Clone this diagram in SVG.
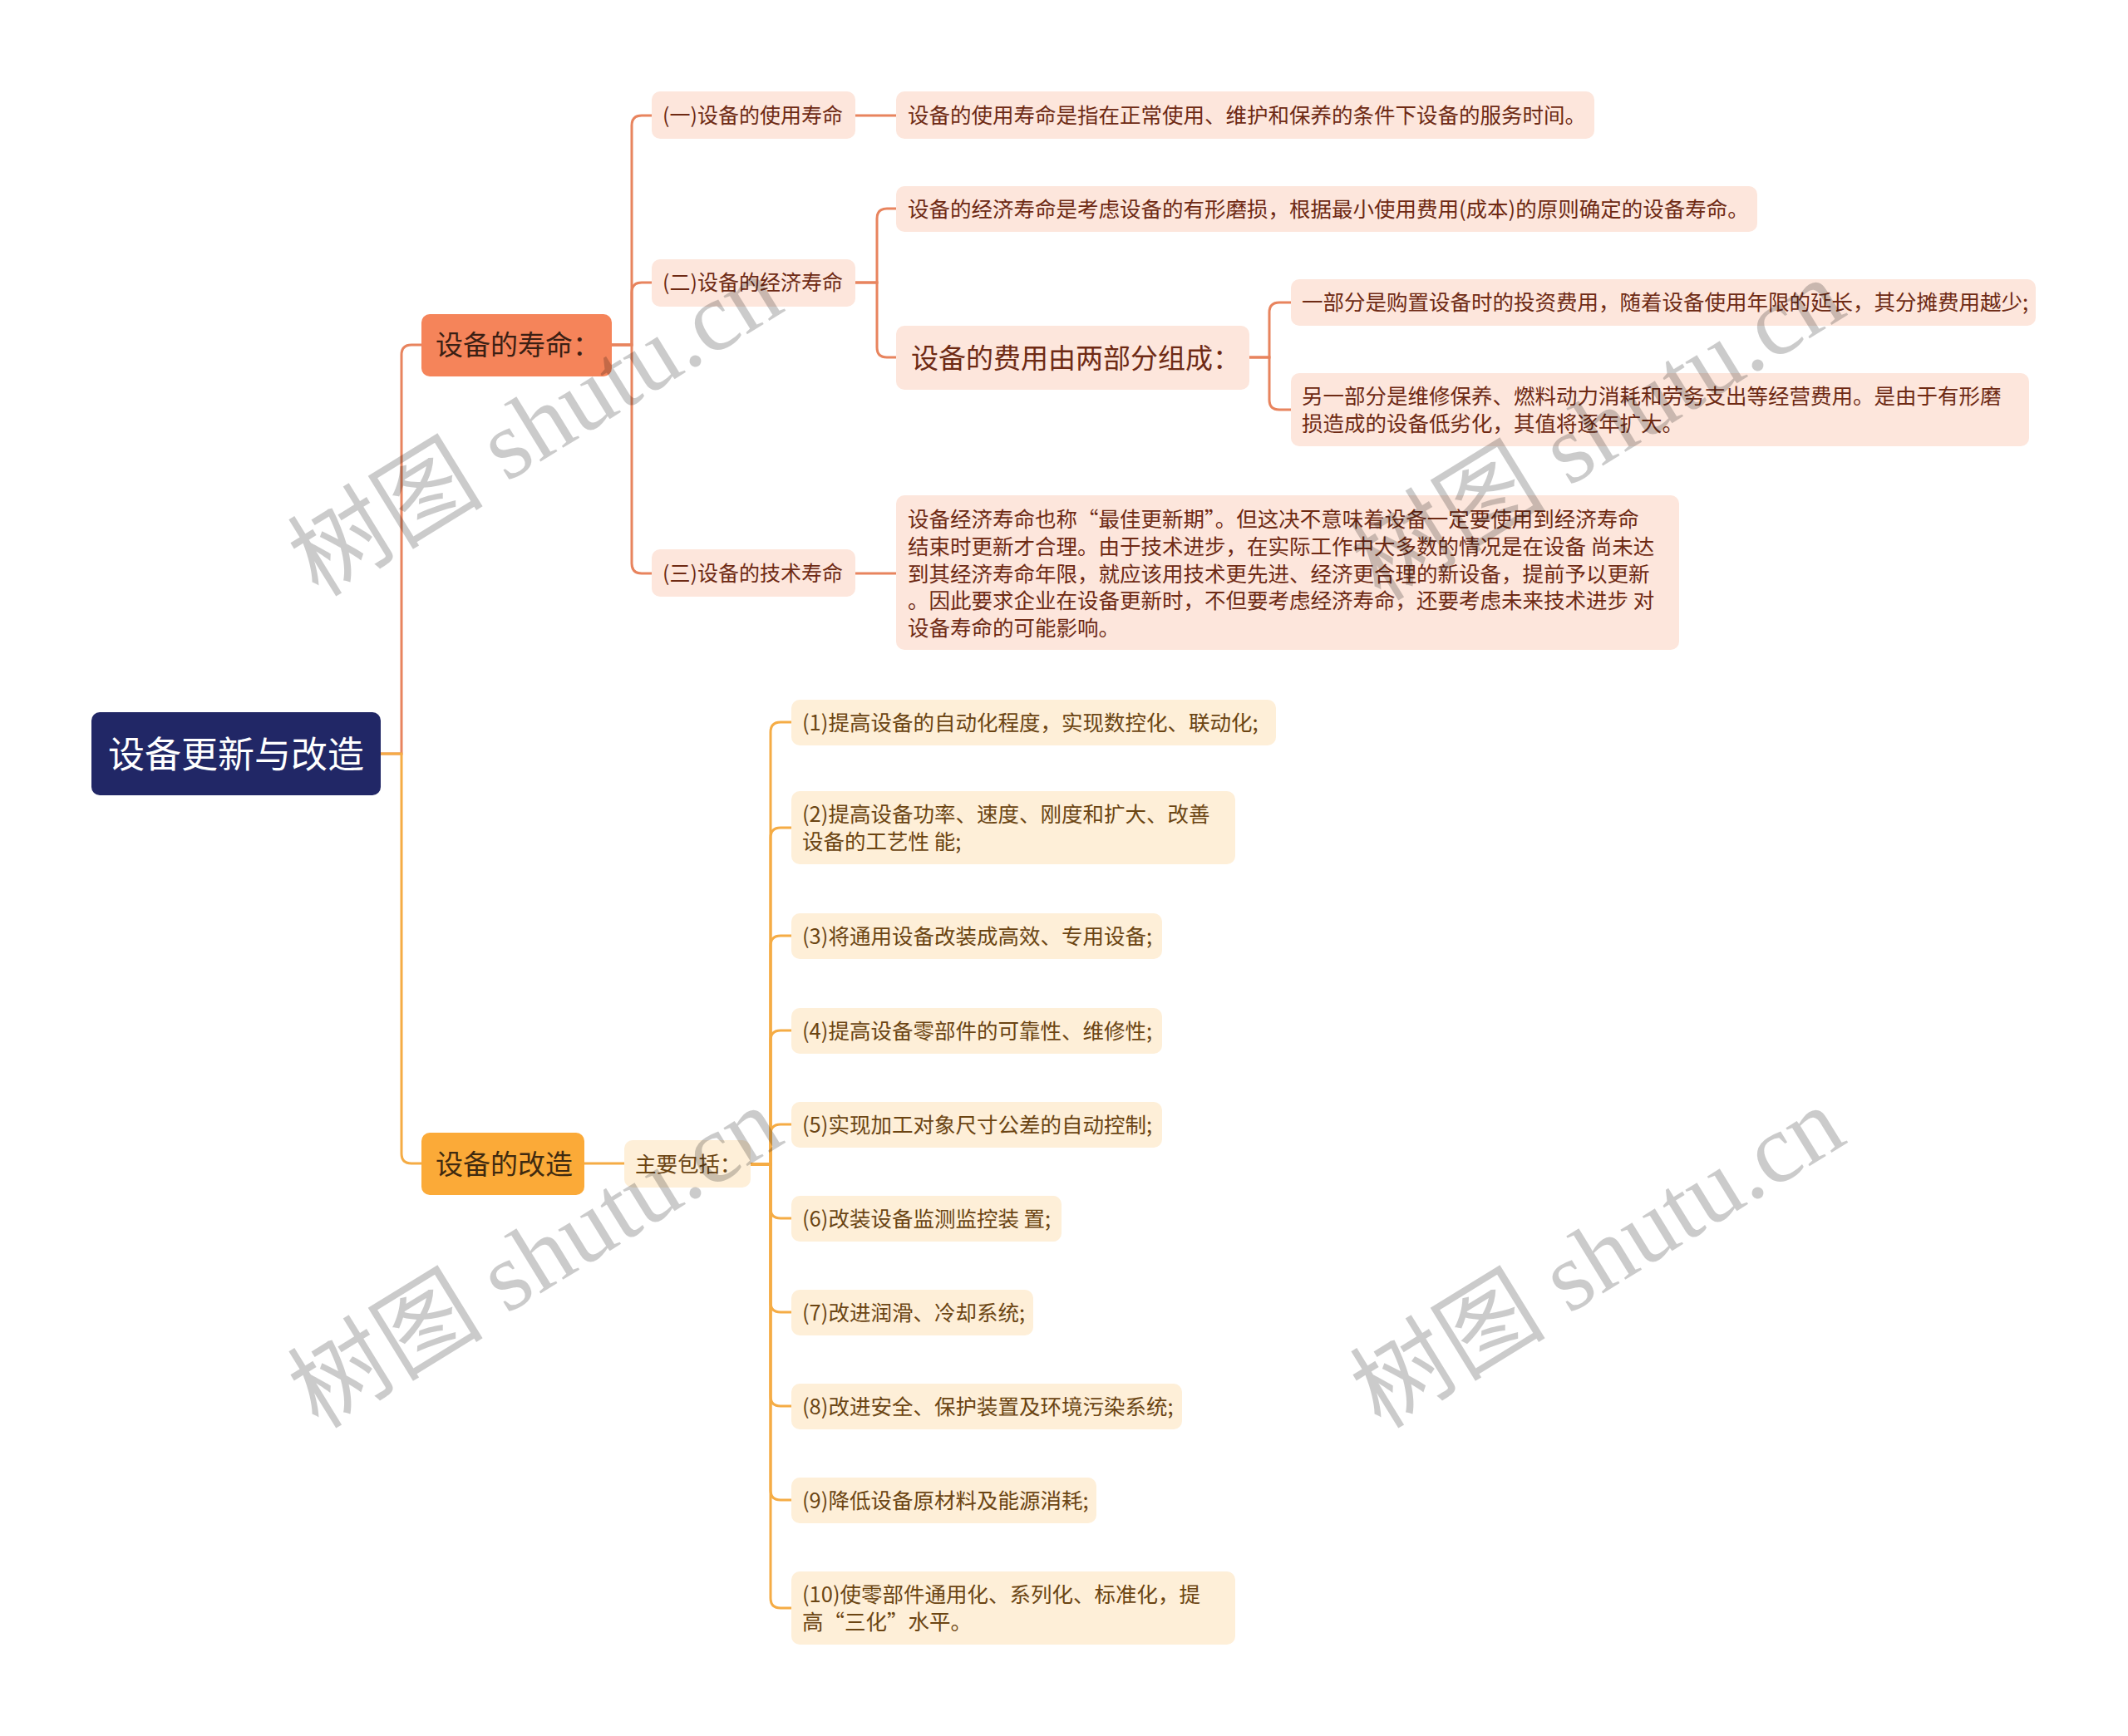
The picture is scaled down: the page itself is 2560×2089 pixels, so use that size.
<svg xmlns="http://www.w3.org/2000/svg" width="2560" height="2089" viewBox="0 0 2560 2089">
<style>
text{font-family:"Noto Sans CJK SC","Microsoft YaHei",sans-serif;}
.c1{fill:none;stroke:#E8845E;stroke-width:3;}
.c2{fill:none;stroke:#F5AC45;stroke-width:3;}
.root{fill:#212766;}
.b1{fill:#F5845A;}
.b2{fill:#FBAA38;}
.n1{fill:#FDE6DC;}
.n2{fill:#FEEFD8;}
.t1{fill:#6E2A14;font-size:25.5px;}
.t1s{fill:#6E2A14;font-size:25px;}
.t2{fill:#6B4513;font-size:25.5px;}
.wm{font-family:"Liberation Serif","Noto Sans CJK SC",serif;font-size:118px;fill:#000;opacity:0.2;}
</style>
<rect width="2560" height="2089" fill="#FFFFFF"/>
<g id="connectors">
<path class="c1" d="M458 907 H483 V427 Q483 415 495 415 H507"/>
<path class="c2" d="M458 907 H483 V1388 Q483 1400 495 1400 H507"/>
<path class="c1" d="M736 415 H760 V151 Q760 139 772 139 H784"/>
<path class="c1" d="M736 415 H760 V352 Q760 340 772 340 H784"/>
<path class="c1" d="M736 415 H760 V678 Q760 690 772 690 H784"/>
<path class="c1" d="M1029 139 H1078"/>
<path class="c1" d="M1029 340 H1055 V263 Q1055 251 1067 251 H1078"/>
<path class="c1" d="M1029 340 H1055 V418 Q1055 430 1067 430 H1078"/>
<path class="c1" d="M1029 690 H1078"/>
<path class="c1" d="M1503 430 H1527 V376 Q1527 364 1539 364 H1553"/>
<path class="c1" d="M1503 430 H1527 V481 Q1527 493 1539 493 H1553"/>
<path class="c2" d="M703 1400 H751"/>
<path class="c2" d="M903 1401 H927 V881 Q927 869 939 869 H952"/>
<path class="c2" d="M903 1401 H927 V1008 Q927 996 939 996 H952"/>
<path class="c2" d="M903 1401 H927 V1138 Q927 1126 939 1126 H952"/>
<path class="c2" d="M903 1401 H927 V1252 Q927 1240 939 1240 H952"/>
<path class="c2" d="M903 1401 H927 V1365 Q927 1353 939 1353 H952"/>
<path class="c2" d="M903 1401 H927 V1454 Q927 1466 939 1466 H952"/>
<path class="c2" d="M903 1401 H927 V1567 Q927 1579 939 1579 H952"/>
<path class="c2" d="M903 1401 H927 V1680 Q927 1692 939 1692 H952"/>
<path class="c2" d="M903 1401 H927 V1793 Q927 1805 939 1805 H952"/>
<path class="c2" d="M903 1401 H927 V1923 Q927 1935 939 1935 H952"/>
</g>
<g id="root">
<rect class="root" x="110" y="857" width="348" height="100" rx="10"/>
<text x="284" y="924" font-size="44" fill="#FFFFFF" text-anchor="middle">设备更新与改造</text>
</g>
<g id="b1">
<rect class="b1" x="507" y="378" width="229" height="75" rx="10"/>
<text x="524" y="427" font-size="33" fill="#3B1F14">设备的寿命：</text>
</g>
<g id="b2">
<rect class="b2" x="507" y="1363" width="196" height="75" rx="10"/>
<text x="524" y="1413" font-size="33" fill="#3F2A10">设备的改造</text>
</g>
<g id="life1">
<rect class="n1" x="784" y="110" width="245" height="57" rx="10"/>
<text class="t1s" x="797" y="148">(一)设备的使用寿命</text>
</g>
<g id="life2">
<rect class="n1" x="784" y="312" width="245" height="57" rx="10"/>
<text class="t1s" x="797" y="349">(二)设备的经济寿命</text>
</g>
<g id="life3">
<rect class="n1" x="784" y="661" width="245" height="57" rx="10"/>
<text class="t1s" x="797" y="699">(三)设备的技术寿命</text>
</g>
<g id="life1d">
<rect class="n1" x="1078" y="110" width="840" height="57" rx="10"/>
<text class="t1" x="1092" y="148">设备的使用寿命是指在正常使用、维护和保养的条件下设备的服务时间。</text>
</g>
<g id="life2d">
<rect class="n1" x="1078" y="224" width="1036" height="55" rx="10"/>
<text class="t1" x="1092" y="261">设备的经济寿命是考虑设备的有形磨损，根据最小使用费用(成本)的原则确定的设备寿命。</text>
</g>
<g id="cost">
<rect class="n1" x="1078" y="392" width="425" height="77" rx="10"/>
<text x="1096" y="443" font-size="33" fill="#6E2A14">设备的费用由两部分组成：</text>
</g>
<g id="cost1">
<rect class="n1" x="1553" y="336" width="896" height="56" rx="10"/>
<text class="t1" x="1566" y="373">一部分是购置设备时的投资费用，随着设备使用年限的延长，其分摊费用越少;</text>
</g>
<g id="cost2">
<rect class="n1" x="1553" y="449" width="888" height="88" rx="10"/>
<text class="t1" x="1566" y="486">另一部分是维修保养、燃料动力消耗和劳务支出等经营费用。是由于有形磨</text>
<text class="t1" x="1566" y="519">损造成的设备低劣化，其值将逐年扩大。</text>
</g>
<g id="life3d">
<rect class="n1" x="1078" y="596" width="942" height="186" rx="10"/>
<text class="t1" x="1092" y="634">设备经济寿命也称“最佳更新期”。但这决不意味着设备一定要使用到经济寿命</text>
<text class="t1" x="1092" y="667">结束时更新才合理。由于技术进步，在实际工作中大多数的情况是在设备 尚未达</text>
<text class="t1" x="1092" y="700">到其经济寿命年限，就应该用技术更先进、经济更合理的新设备，提前予以更新</text>
<text class="t1" x="1092" y="732">。因此要求企业在设备更新时，不但要考虑经济寿命，还要考虑未来技术进步 对</text>
<text class="t1" x="1092" y="765">设备寿命的可能影响。</text>
</g>
<g id="main">
<rect class="n2" x="751" y="1372" width="152" height="57" rx="10"/>
<text class="t2" x="764" y="1410">主要包括：</text>
</g>
<g id="i1">
<rect class="n2" x="952" y="842" width="583" height="55" rx="10"/>
<text class="t2" x="965" y="879">(1)提高设备的自动化程度，实现数控化、联动化;</text>
</g>
<g id="i2">
<rect class="n2" x="952" y="952" width="534" height="88" rx="10"/>
<text class="t2" x="965" y="989">(2)提高设备功率、速度、刚度和扩大、改善</text>
<text class="t2" x="965" y="1022">设备的工艺性 能;</text>
</g>
<g id="i3">
<rect class="n2" x="952" y="1099" width="446" height="55" rx="10"/>
<text class="t2" x="965" y="1136">(3)将通用设备改装成高效、专用设备;</text>
</g>
<g id="i4">
<rect class="n2" x="952" y="1213" width="446" height="55" rx="10"/>
<text class="t2" x="965" y="1250">(4)提高设备零部件的可靠性、维修性;</text>
</g>
<g id="i5">
<rect class="n2" x="952" y="1326" width="446" height="55" rx="10"/>
<text class="t2" x="965" y="1363">(5)实现加工对象尺寸公差的自动控制;</text>
</g>
<g id="i6">
<rect class="n2" x="952" y="1439" width="325" height="55" rx="10"/>
<text class="t2" x="965" y="1476">(6)改装设备监测监控装 置;</text>
</g>
<g id="i7">
<rect class="n2" x="952" y="1552" width="291" height="55" rx="10"/>
<text class="t2" x="965" y="1589">(7)改进润滑、冷却系统;</text>
</g>
<g id="i8">
<rect class="n2" x="952" y="1665" width="470" height="55" rx="10"/>
<text class="t2" x="965" y="1702">(8)改进安全、保护装置及环境污染系统;</text>
</g>
<g id="i9">
<rect class="n2" x="952" y="1778" width="367" height="55" rx="10"/>
<text class="t2" x="965" y="1815">(9)降低设备原材料及能源消耗;</text>
</g>
<g id="i10">
<rect class="n2" x="952" y="1891" width="534" height="88" rx="10"/>
<text class="t2" x="965" y="1928">(10)使零部件通用化、系列化、标准化，提</text>
<text class="t2" x="965" y="1961">高“三化”水平。</text>
</g>
<g id="watermarks">
<text class="wm" text-anchor="middle" transform="translate(645 514) rotate(-31.6)" x="0" y="38">树图 shutu.cn</text>
<text class="wm" text-anchor="middle" transform="translate(1923 519) rotate(-31.6)" x="0" y="38">树图 shutu.cn</text>
<text class="wm" text-anchor="middle" transform="translate(645 1515) rotate(-31.6)" x="0" y="38">树图 shutu.cn</text>
<text class="wm" text-anchor="middle" transform="translate(1923 1515) rotate(-31.6)" x="0" y="38">树图 shutu.cn</text>
</g>
</svg>
